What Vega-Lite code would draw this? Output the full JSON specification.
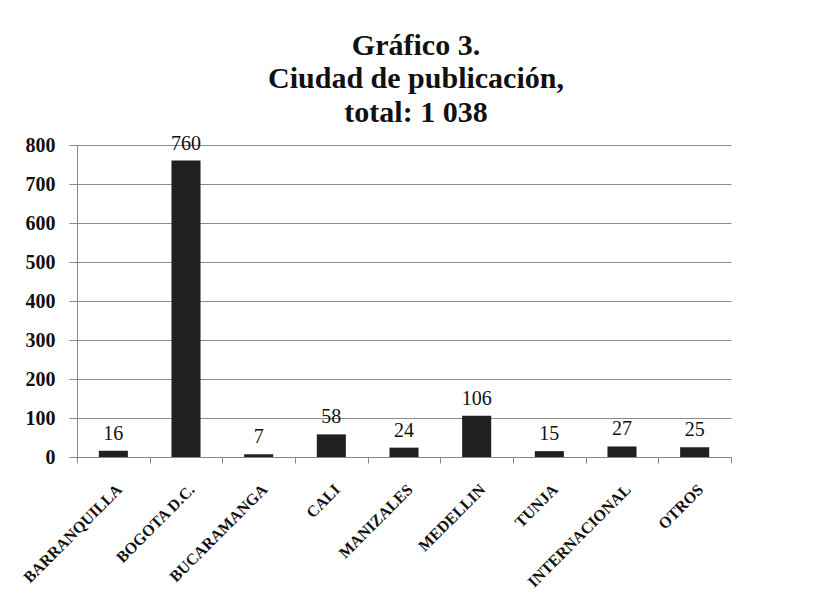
{
  "$schema": "https://vega.github.io/schema/vega-lite/v6.json",
  "autosize": "none",
  "width": 654,
  "height": 312,
  "padding": {"left": 77, "top": 145, "right": 88, "bottom": 145},
  "background": "white",
  "title": {
    "text": ["Gráfico 3.", "Ciudad de publicación,", "total: 1 038"],
    "anchor": "middle",
    "font": "Liberation Serif",
    "fontSize": 30,
    "fontWeight": "bold",
    "lineHeight": 33.5,
    "offset": 6,
    "dx": 12,
    "color": "#111"
  },
  "data": {
    "values": [
      {"ciudad": "BARRANQUILLA", "n": 16},
      {"ciudad": "BOGOTA D.C.", "n": 760},
      {"ciudad": "BUCARAMANGA", "n": 7},
      {"ciudad": "CALI", "n": 58},
      {"ciudad": "MANIZALES", "n": 24},
      {"ciudad": "MEDELLIN", "n": 106},
      {"ciudad": "TUNJA", "n": 15},
      {"ciudad": "INTERNACIONAL", "n": 27},
      {"ciudad": "OTROS", "n": 25}
    ]
  },
  "encoding": {
    "x": {
      "field": "ciudad", "type": "nominal", "sort": null,
      "scale": {"paddingInner": 0, "paddingOuter": 0},
      "axis": {
        "title": null, "labelAngle": -45, "tickBand": "extent",
        "labelFont": "Liberation Serif", "labelFontSize": 16, "labelFontWeight": "bold",
        "labelColor": "#111", "labelPadding": 18,
        "domainColor": "#888", "tickColor": "#888", "tickSize": 6, "grid": false
      }
    },
    "y": {
      "field": "n", "type": "quantitative",
      "scale": {"domain": [0, 800]},
      "axis": {
        "title": null, "values": [0,100,200,300,400,500,600,700,800],
        "labelFont": "Liberation Serif", "labelFontSize": 20, "labelFontWeight": "bold",
        "labelColor": "#111", "labelPadding": 14,
        "domainColor": "#888", "tickColor": "#888", "tickSize": 8,
        "grid": true, "gridColor": "#8c8c8c", "gridWidth": 1
      }
    }
  },
  "layer": [
    {"mark": {"type": "bar", "width": {"band": 0.4}, "color": "#202020"}},
    {
      "mark": {"type": "text", "baseline": "alphabetic", "dy": -11, "font": "Liberation Serif", "fontSize": 20, "color": "#111"},
      "encoding": {"text": {"field": "n", "type": "quantitative"}}
    }
  ],
  "config": {"view": {"stroke": null}}
}
